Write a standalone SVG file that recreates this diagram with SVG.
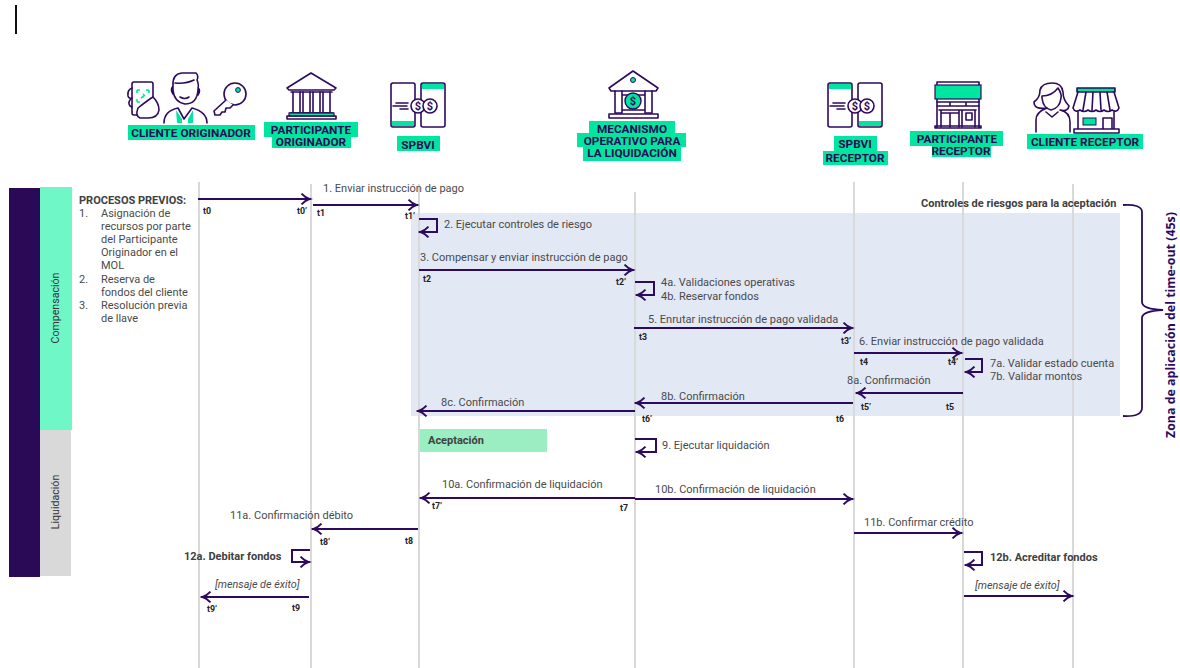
<svg xmlns="http://www.w3.org/2000/svg" width="1180" height="668" viewBox="0 0 1180 668">
<style>
text{font-family:Roboto,"Liberation Sans",sans-serif}
.l{font-size:11px;fill:#4a4a4a}
.r{font-size:10.6px;fill:#333;text-anchor:middle}
.b{font-size:11px;font-weight:700;fill:#404040}
.i{font-size:10.800px;font-style:italic;fill:#4a4a4a}
.t{font-size:8.800px;font-weight:700;fill:#222}
.n{font-size:11.800px;font-weight:700;fill:#2a0a56;text-anchor:middle}
.g{fill:#00e6a0}
.ll{stroke:#d9d9d9;stroke-width:2;fill:none}
.a{stroke:#2d0a5e;stroke-width:2;fill:none;marker-end:url(#ah)}
.ic{fill:none;stroke:#2d0a5e;stroke-width:1.6;stroke-linejoin:round;stroke-linecap:round}
.icf{fill:#00e6a0;stroke:#2d0a5e;stroke-width:1.2}
.d{font-size:11px;font-weight:700;fill:#2d0a5e;text-anchor:middle}
.c{fill:#fff;stroke:#2d0a5e;stroke-width:1.6}
</style>
<defs>
<marker id="ah" markerUnits="userSpaceOnUse" markerWidth="14" markerHeight="14" refX="12.500" refY="7" orient="auto">
<path d="M3,1.6 Q7,5.8 11,7 Q7,8.2 3,12.4" fill="none" stroke="#2d0a5e" stroke-width="2"/>
</marker>
<g id="phones">
<rect class="ic" x="0" y="0" width="24" height="44" rx="2"/>
<rect class="ic" x="30" y="0" width="24" height="44" rx="2"/>
<rect x="1" y="38" width="22" height="5" fill="#00e6a0"/>
<rect x="31" y="1" width="22" height="5" fill="#00e6a0"/>
</g>
<g id="coins">
<path class="ic" d="M5,20H17M2,23H16M9,26H17"/>
<circle class="c" cx="27" cy="23" r="7"/>
<circle class="c" cx="39" cy="23" r="7"/>
<text class="d" x="27" y="27">$</text>
<text class="d" x="39" y="27">$</text>
</g>
</defs>
<rect width="1180" height="668" fill="#fff"/>
<rect x="15" y="5" width="2" height="29" fill="#111"/>

<g id="bands">
<rect x="9" y="188" width="31" height="389" fill="#2a0a56"/>
<rect x="40" y="187" width="32" height="243" fill="#6ff7c8"/>
<rect x="40" y="430" width="31" height="146" fill="#d9d9d9"/>
<text class="r" transform="translate(59,308) rotate(-90)">Compensación</text>
<text class="r" transform="translate(59,502) rotate(-90)">Liquidación</text>
</g>

<rect id="zone" x="411" y="213" width="709" height="203" fill="#e3e8f5"/>
<rect id="aceptacion-band" x="419" y="429" width="128" height="23" fill="#9bedc2"/>

<g id="lifelines">
<path class="ll" d="M199,182V668M311,184V668M419,184V668M635,192V668M854,182V668M963,182V668M1073,184V668"/>
</g>

<g id="previos">
<text class="b" x="79" y="204">PROCESOS PREVIOS:</text>
<text class="l" x="79" y="217">1.</text><text class="l" x="101" y="217">Asignación de</text>
<text class="l" x="101" y="230">recursos por parte</text>
<text class="l" x="101" y="243">del Participante</text>
<text class="l" x="101" y="256">Originador en el</text>
<text class="l" x="101" y="269">MOL</text>
<text class="l" x="79" y="283">2.</text><text class="l" x="101" y="283">Reserva de</text>
<text class="l" x="101" y="296">fondos del cliente</text>
<text class="l" x="79" y="309">3.</text><text class="l" x="101" y="309">Resolución previa</text>
<text class="l" x="101" y="322">de llave</text>
</g>

<g id="node-cliente-originador">
<rect class="ic" x="132" y="82" width="21" height="33" rx="2"/>
<path d="M138,108Q148,100 153,97Q159,103 159,110Q158,118 148,118H140Q135,116 138,108Z" fill="#fff" stroke="#2d0a5e" stroke-width="1.6"/>
<path class="ic" d="M132,88Q127,90 128,96Q129,99 132,98M132,98Q127,102 130,106L132,107"/>
<path d="M137,90h3M146,90h3M137,90v3M149,90v3M137,102h3M137,102v-3M143,94l2,2M141,98l3,-2" stroke="#00e6a0" stroke-width="1.6" fill="none"/>
<path class="ic" d="M173,86Q172,74 182,73L196,73Q199,76 197,80Q199,84 198,90Q197,104 185,104Q174,102 173,90ZM173,86Q170,90 173,94M198,88Q201,90 198,95M180,97Q185,100 189,97M175,83Q186,84 194,80"/>
<path class="ic" d="M164,123Q164,111 178,108L184,119L192,108Q207,112 207,123"/>
<path d="M176,110l6,9v4h-5zM193,110l-5,9v4h5z" fill="#00e6a0"/>
<circle class="ic" cx="235" cy="94" r="11"/>
<circle cx="238" cy="90" r="2.400" fill="#00e6a0" stroke="#2d0a5e"/>
<path d="M226,100L214,111L215,115H220L222,112L225,112L226,108L230,108L233,105" fill="#fff" stroke="#2d0a5e" stroke-width="1.6" stroke-linejoin="round"/>
<rect class="g" x="128" y="125" width="127" height="15"/>
<text class="n" x="191" y="137">CLIENTE ORIGINADOR</text>
</g>

<g id="node-participante-originador">
<path class="ic" d="M287,88L311,73L336,88L334,90H289Z"/>
<path class="ic" d="M293,92V113H300V92M303,92V113H310V92M313,92V113H320V92M323,92V113H330V92"/>
<path class="ic" d="M291,92H332M290,113H333"/>
<rect class="icf" x="289" y="113" width="45" height="3"/>
<rect class="ic" x="287" y="116" width="49" height="3"/>
<rect class="g" x="264" y="122" width="94" height="15"/>
<rect class="g" x="272" y="137" width="79" height="11"/>
<text class="n" x="311" y="134">PARTICIPANTE</text>
<text class="n" x="311" y="146">ORIGINADOR</text>
</g>

<g id="node-spbvi">
<use href="#phones" x="391" y="83"/>
<use href="#coins" x="391" y="83"/>
<rect class="g" x="397" y="136" width="43" height="15"/>
<text class="n" x="418" y="149">SPBVI</text>
</g>

<g id="node-mecanismo">
<path class="ic" d="M609,88L633,71L658,88L656,91H611Z"/>
<circle cx="633" cy="80" r="2.500" fill="#00e6a0" stroke="#2d0a5e"/>
<path class="ic" d="M615,91V113H622V91M645,91V113H652V91M622,95H645M622,110H645"/>
<rect class="ic" x="609" y="114" width="49" height="4"/>
<circle cx="633" cy="101" r="8" fill="#00e6a0" stroke="#2d0a5e" stroke-width="1.4"/>
<text class="d" x="633" y="105">$</text>
<rect class="g" x="589" y="121" width="86" height="12"/>
<rect class="g" x="577" y="133" width="109" height="14"/>
<rect class="g" x="583" y="147" width="98" height="14"/>
<text class="n" x="632" y="133">MECANISMO</text>
<text class="n" x="632" y="145">OPERATIVO PARA</text>
<text class="n" x="632" y="157">LA LIQUIDACIÓN</text>
</g>

<g id="node-spbvi-receptor">
<use href="#phones" transform="translate(828,127) scale(1,-1)"/>
<use href="#coins" x="828" y="83"/>
<rect class="g" x="834" y="136" width="43" height="15"/>
<rect class="g" x="823" y="151" width="65" height="14"/>
<text class="n" x="855" y="148">SPBVI</text>
<text class="n" x="855" y="162">RECEPTOR</text>
</g>

<g id="node-participante-receptor">
<path class="ic" d="M937,82H979V128H937ZM935,126H981V128H935Z"/>
<rect class="icf" x="935" y="85" width="46" height="14"/>
<path class="ic" d="M937,102H979M937,106H979M950,102V106M966,102V106M939,110H976M941,110V127M959,110V127M950,113V127M941,113H959M962,110V127M962,110H975V127M966,113H972V120H966Z"/>
<rect class="g" x="910" y="131" width="93" height="15"/>
<rect class="g" x="932" y="146" width="59" height="11"/>
<text class="n" x="957" y="143">PARTICIPANTE</text>
<text class="n" x="961" y="155">RECEPTOR</text>
</g>

<g id="node-cliente-receptor">
<path class="ic" d="M1036,132V120Q1036,112 1047,108Q1034,110 1034,102Q1040,98 1040,90Q1042,83 1052,83Q1062,83 1063,92Q1063,100 1069,106Q1068,112 1060,110Q1070,112 1070,122V132"/>
<path class="ic" d="M1042,96Q1052,96 1058,88Q1062,94 1061,98Q1060,108 1051,110Q1043,108 1042,98ZM1046,112L1052,117L1058,112"/>
<rect class="ic" x="1077" y="88" width="38" height="4" style="fill:#00e6a0"/>
<path class="ic" d="M1078,92L1073,108Q1075,113 1080,110Q1084,113 1088,110Q1092,113 1096,110Q1100,113 1104,110Q1108,113 1112,110Q1117,113 1119,108L1114,92M1086,92L1083,110M1093,92L1092,110M1100,92L1101,110M1107,92L1110,110"/>
<path class="ic" d="M1078,112V129M1114,112V129M1074,129H1119V133H1074ZM1103,118V129M1103,118H1112V129"/>
<rect x="1083" y="118" width="13" height="7" fill="#00e6a0" stroke="#2d0a5e"/>
<rect class="g" x="1027" y="134" width="116" height="15"/>
<text class="n" x="1085" y="146">CLIENTE RECEPTOR</text>
</g>

<g id="connectors">
<path class="a" d="M198,199H311"/>
<path class="a" d="M313,205H418"/>
<path class="a" d="M419,219H437V232H419"/>
<path class="a" d="M419,270H634"/>
<path class="a" d="M635,282H654V295H636"/>
<path class="a" d="M634,328H853"/>
<path class="a" d="M854,353H962"/>
<path class="a" d="M965,359H982V372H965"/>
<path class="a" d="M963,393H856"/>
<path class="a" d="M853,403H635"/>
<path class="a" d="M635,411H417"/>
<path class="a" d="M635,439H656V452H636"/>
<path class="a" d="M635,498H420"/>
<path class="a" d="M635,499H853"/>
<path class="a" d="M418,529H312"/>
<path class="a" d="M854,533H962"/>
<path class="a" d="M310,550H292V562H310"/>
<path class="a" d="M964,552H982V565H965"/>
<path class="a" d="M309,597H201"/>
<path class="a" d="M964,596H1073"/>
<path d="M1123,205Q1142,204 1142,212V302Q1142,309 1163,310Q1142,311 1142,318V408Q1142,417 1123,416" fill="none" stroke="#2d0a5e" stroke-width="1.8"/>
</g>

<g id="labels">
<text class="l" x="323" y="192">1. Enviar instrucción de pago</text>
<text class="l" x="444" y="228">2. Ejecutar controles de riesgo</text>
<text class="l" x="420" y="261">3. Compensar y enviar instrucción de pago</text>
<text class="l" x="661" y="286">4a. Validaciones operativas</text>
<text class="l" x="661" y="300">4b. Reservar fondos</text>
<text class="l" x="648" y="323">5. Enrutar instrucción de pago validada</text>
<text class="l" x="859" y="345">6. Enviar instrucción de pago validada</text>
<text class="l" x="990" y="367">7a. Validar estado cuenta</text>
<text class="l" x="990" y="380">7b. Validar montos</text>
<text class="l" x="847" y="384">8a. Confirmación</text>
<text class="l" x="661" y="400">8b. Confirmación</text>
<text class="l" x="441" y="406">8c. Confirmación</text>
<text class="b" x="428" y="444">Aceptación</text>
<text class="l" x="662" y="449">9. Ejecutar liquidación</text>
<text class="l" x="442" y="488">10a. Confirmación de liquidación</text>
<text class="l" x="655" y="493">10b. Confirmación de liquidación</text>
<text class="l" x="230" y="519">11a. Confirmación débito</text>
<text class="l" x="864" y="526">11b. Confirmar crédito</text>
<text class="b" x="184" y="560">12a. Debitar fondos</text>
<text class="b" x="990" y="561">12b. Acreditar fondos</text>
<text class="i" x="215" y="588">[mensaje de éxito]</text>
<text class="i" x="975" y="589">[mensaje de éxito]</text>
<text class="b" x="921" y="207">Controles de riesgos para la aceptación</text>
<text transform="translate(1175,438) rotate(-90)" style="font-family:'Open Sans',sans-serif;font-size:12.400px;font-weight:700;fill:#2d0a5e">Zona de aplicación del time-out (45s)</text>
<text class="t" x="203" y="214">t0</text><text class="t" x="297" y="214">t0’</text>
<text class="t" x="317" y="216">t1</text><text class="t" x="405" y="219">t1’</text>
<text class="t" x="423" y="282">t2</text><text class="t" x="616" y="285">t2’</text>
<text class="t" x="639" y="340">t3</text><text class="t" x="841" y="344">t3’</text>
<text class="t" x="860" y="365">t4</text><text class="t" x="948" y="365">t4’</text>
<text class="t" x="861" y="410">t5’</text><text class="t" x="946" y="410">t5</text>
<text class="t" x="642" y="422">t6’</text><text class="t" x="836" y="422">t6</text>
<text class="t" x="432" y="509">t7’</text><text class="t" x="620" y="511">t7</text>
<text class="t" x="320" y="545">t8’</text><text class="t" x="405" y="544">t8</text>
<text class="t" x="207" y="612">t9’</text><text class="t" x="292" y="611">t9</text>
</g>
</svg>
